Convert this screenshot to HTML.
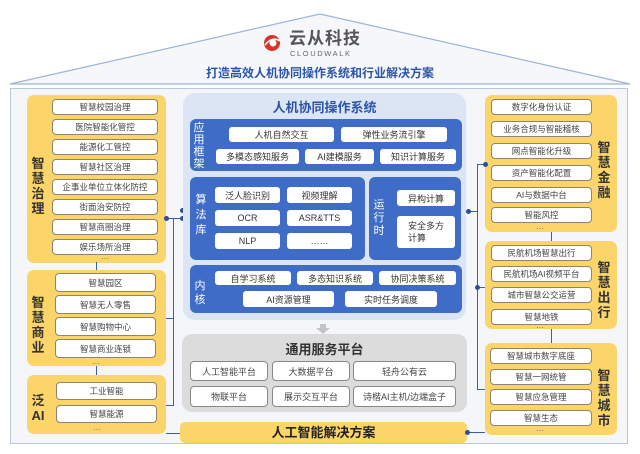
<!DOCTYPE html>
<html><head><meta charset="utf-8"><style>
*{margin:0;padding:0;box-sizing:border-box}
body{width:640px;height:454px;background:#fff;position:relative;overflow:hidden;font-family:"Liberation Sans","Noto Sans CJK SC",sans-serif}
div{position:absolute}
.y{background:#fbd46a;border-radius:7px}
.it{background:#fff;border:1px solid #8d8470;border-radius:4px;font-size:8.5px;color:#444;text-align:center;display:flex;align-items:center;justify-content:center;white-space:nowrap}
.vl{font-size:13px;font-weight:bold;color:#333;line-height:15px;width:16px;text-align:center}
.bp{background:#3f6cc6;border-radius:6px}
.bl{color:#fff;font-size:11px;line-height:12px;width:14px;text-align:center}
.bi{background:#fff;border-radius:3px;font-size:9px;color:#333;display:flex;align-items:center;justify-content:center;white-space:nowrap}
.gi{background:#fff;border:1px solid #888;border-radius:4px;font-size:9px;color:#444;display:flex;align-items:center;justify-content:center;white-space:nowrap}
.dots{font-size:8px;color:#666;width:30px;text-align:center;line-height:6px}
.ln{background:#3a5fa8}
.dt{width:5px;height:5px;border-radius:50%;background:#2d4f96}
</style></head><body>
<svg style="position:absolute;left:0;top:0" width="640" height="454">
<polygon points="10,84 320,14 630,84" fill="#f6f7fa" stroke="#9fb3d6" stroke-width="1.2"/>
<circle cx="272" cy="43" r="8" fill="#d8322a"/><circle cx="273" cy="43" r="3.5" fill="#fff"/>
<path d="M265 45 Q272 36 280 41" stroke="#fff" stroke-width="1.5" fill="none"/>
</svg>
<div style="left:289px;top:29px;font-size:17px;font-weight:bold;color:#555;letter-spacing:1px;line-height:20px">云从科技</div>
<div style="left:290px;top:50px;font-size:7.5px;color:#666;letter-spacing:1.6px;line-height:8px">CLOUDWALK</div>
<div style="left:0;width:640px;top:64px;text-align:center;font-size:12px;font-weight:bold;color:#2c55a8">打造高效人机协同操作系统和行业解决方案</div>
<div style="left:10px;top:88px;width:618px;height:356px;background:#f4f6fa;border:1.5px solid #b9c6dc"></div>

<!-- left -->
<div class="y" style="left:27px;top:95px;width:139px;height:168px"></div>
<div class="vl" style="left:30px;top:156px">智<br>慧<br>治<br>理</div>
<div class="it" style="left:52px;top:99px;width:106px;height:16px">智慧校园治理</div>
<div class="it" style="left:52px;top:119px;width:106px;height:16px">医院智能化管控</div>
<div class="it" style="left:52px;top:139px;width:106px;height:16px">能源化工管控</div>
<div class="it" style="left:52px;top:159px;width:106px;height:16px">智慧社区治理</div>
<div class="it" style="left:52px;top:179px;width:106px;height:16px">企事业单位立体化防控</div>
<div class="it" style="left:52px;top:199px;width:106px;height:16px">街面治安防控</div>
<div class="it" style="left:52px;top:219px;width:106px;height:16px">智慧商圈治理</div>
<div class="it" style="left:52px;top:239px;width:106px;height:16px">娱乐场所治理</div>
<div class="dots" style="left:90px;top:256px">···</div>
<div class="ln" style="left:96px;top:262px;width:1px;height:8px"></div>

<div class="y" style="left:27px;top:270px;width:139px;height:96px"></div>
<div class="vl" style="left:30px;top:295px">智<br>慧<br>商<br>业</div>
<div class="it" style="left:55px;top:273px;width:101px;height:19px">智慧园区</div>
<div class="it" style="left:55px;top:295px;width:101px;height:19px">智慧无人零售</div>
<div class="it" style="left:55px;top:317px;width:101px;height:19px">智慧购物中心</div>
<div class="it" style="left:55px;top:339px;width:101px;height:19px">智慧商业连锁</div>
<div class="dots" style="left:81px;top:361px">···</div>
<div class="ln" style="left:96px;top:366px;width:1px;height:9px"></div>

<div class="y" style="left:27px;top:375px;width:139px;height:59px"></div>
<div class="vl" style="left:30px;top:393px">泛<br>AI</div>
<div class="it" style="left:56px;top:382px;width:101px;height:18px">工业智能</div>
<div class="it" style="left:56px;top:405px;width:101px;height:18px">智慧能源</div>
<div class="dots" style="left:82px;top:427px">···</div>

<div class="ln" style="left:173px;top:218px;width:1px;height:188px"></div>
<div class="ln" style="left:166px;top:218px;width:16px;height:1px"></div>
<div class="ln" style="left:166px;top:318px;width:8px;height:1px"></div>
<div class="ln" style="left:166px;top:405px;width:8px;height:1px"></div>
<div class="ln" style="left:166px;top:433px;width:16px;height:1px"></div>
<div class="dt" style="left:164px;top:216px"></div>
<div class="dt" style="left:180px;top:208px"></div>
<div class="dt" style="left:180px;top:216px"></div>

<!-- center -->
<div style="left:183px;top:93px;width:283px;height:227px;background:#dbe5f4;border-radius:12px"></div>
<div style="left:183px;width:283px;top:97px;text-align:center;font-size:13px;font-weight:bold;color:#2c55a8">人机协同操作系统</div>
<div class="bp" style="left:190px;top:119px;width:272px;height:52px"></div>
<div class="bl" style="left:192px;top:122px">应<br>用<br>框<br>架</div>
<div class="bi" style="left:229px;top:127px;width:105px;height:15px">人机自然交互</div>
<div class="bi" style="left:341px;top:127px;width:106px;height:15px">弹性业务流引擎</div>
<div class="bi" style="left:216px;top:149px;width:83px;height:15px">多模态感知服务</div>
<div class="bi" style="left:305px;top:149px;width:69px;height:15px">AI建模服务</div>
<div class="bi" style="left:380px;top:149px;width:76px;height:15px">知识计算服务</div>

<div class="bp" style="left:190px;top:177px;width:175px;height:83px"></div>
<div class="bl" style="left:194px;top:193px;line-height:15px">算<br>法<br>库</div>
<div class="bi" style="left:215px;top:187px;width:65px;height:16px">泛人脸识别</div>
<div class="bi" style="left:287px;top:187px;width:65px;height:16px">视频理解</div>
<div class="bi" style="left:215px;top:210px;width:65px;height:16px">OCR</div>
<div class="bi" style="left:287px;top:210px;width:65px;height:16px">ASR&amp;TTS</div>
<div class="bi" style="left:215px;top:233px;width:65px;height:16px">NLP</div>
<div class="bi" style="left:287px;top:233px;width:65px;height:16px">……</div>

<div class="bp" style="left:369px;top:177px;width:92px;height:83px"></div>
<div class="bl" style="left:372px;top:199px;line-height:13px">运<br>行<br>时</div>
<div class="bi" style="left:397px;top:190px;width:58px;height:16px">异构计算</div>
<div class="bi" style="left:397px;top:216px;width:58px;height:32px;flex-direction:column;line-height:12px">安全多方<br>计算</div>

<div class="bp" style="left:190px;top:265px;width:272px;height:48px"></div>
<div class="bl" style="left:193px;top:279px;line-height:14px">内<br>核</div>
<div class="bi" style="left:215px;top:271px;width:76px;height:14px">自学习系统</div>
<div class="bi" style="left:297px;top:271px;width:76px;height:14px">多态知识系统</div>
<div class="bi" style="left:379px;top:271px;width:77px;height:14px">协同决策系统</div>
<div class="bi" style="left:243px;top:291px;width:91px;height:16px">AI资源管理</div>
<div class="bi" style="left:345px;top:291px;width:92px;height:16px">实时任务调度</div>

<svg style="position:absolute;left:316px;top:324px" width="14" height="10"><polygon points="4,0 10,0 10,4 14,4 7,10 0,4 4,4" fill="#c4c4c4"/></svg>

<div style="left:182px;top:334px;width:285px;height:78px;background:#dcdcdc;border-radius:10px"></div>
<div style="left:182px;width:285px;top:339px;text-align:center;font-size:13px;font-weight:bold;color:#333">通用服务平台</div>
<div class="gi" style="left:190px;top:361px;width:78px;height:20px">人工智能平台</div>
<div class="gi" style="left:272px;top:361px;width:78px;height:20px">大数据平台</div>
<div class="gi" style="left:353px;top:361px;width:103px;height:20px">轻舟公有云</div>
<div class="gi" style="left:190px;top:386px;width:78px;height:21px">物联平台</div>
<div class="gi" style="left:272px;top:386px;width:78px;height:21px">展示交互平台</div>
<div class="gi" style="left:353px;top:386px;width:103px;height:21px">诗楷AI主机/边端盒子</div>

<div class="y" style="left:180px;top:422px;width:287px;height:21px;border-radius:5px;font-size:13px;font-weight:bold;color:#222;text-align:center;line-height:21px">人工智能解决方案</div>
<div class="ln" style="left:467px;top:432px;width:18px;height:1px"></div>
<div class="dt" style="left:465px;top:430px"></div>

<!-- right -->
<div class="y" style="left:485px;top:95px;width:132px;height:137px"></div>
<div class="vl" style="left:596px;top:140px">智<br>慧<br>金<br>融</div>
<div class="it" style="left:491px;top:99px;width:101px;height:16px">数字化身份认证</div>
<div class="it" style="left:491px;top:121px;width:101px;height:16px">业务合规与智能稽核</div>
<div class="it" style="left:491px;top:143px;width:101px;height:16px">网点智能化升级</div>
<div class="it" style="left:491px;top:165px;width:101px;height:16px">资产智能化配置</div>
<div class="it" style="left:491px;top:187px;width:101px;height:16px">AI与数据中台</div>
<div class="it" style="left:491px;top:207px;width:101px;height:16px">智能风控</div>
<div class="dots" style="left:525px;top:226px">···</div>
<div class="ln" style="left:551px;top:232px;width:1px;height:9px"></div>

<div class="y" style="left:485px;top:241px;width:132px;height:88px"></div>
<div class="vl" style="left:596px;top:260px">智<br>慧<br>出<br>行</div>
<div class="it" style="left:491px;top:245px;width:101px;height:16px">民航机场智慧出行</div>
<div class="it" style="left:491px;top:266px;width:101px;height:16px">民航机场AI视频平台</div>
<div class="it" style="left:491px;top:287px;width:101px;height:16px">城市智慧公交运营</div>
<div class="it" style="left:491px;top:309px;width:101px;height:16px">智慧地铁</div>
<div class="dots" style="left:525px;top:325px">···</div>
<div class="ln" style="left:551px;top:329px;width:1px;height:14px"></div>

<div class="y" style="left:485px;top:343px;width:132px;height:92px"></div>
<div class="vl" style="left:596px;top:368px">智<br>慧<br>城<br>市</div>
<div class="it" style="left:490px;top:348px;width:102px;height:16px">智慧城市数字底座</div>
<div class="it" style="left:490px;top:369px;width:102px;height:16px">智慧一网统管</div>
<div class="it" style="left:490px;top:389px;width:102px;height:16px">智慧应急管理</div>
<div class="it" style="left:490px;top:410px;width:102px;height:16px">智慧生态</div>
<div class="dots" style="left:525px;top:428px">···</div>

<div class="ln" style="left:477px;top:164px;width:1px;height:226px"></div>
<div class="ln" style="left:477px;top:164px;width:8px;height:1px"></div>
<div class="ln" style="left:466px;top:211px;width:11px;height:1px"></div>
<div class="ln" style="left:477px;top:287px;width:8px;height:1px"></div>
<div class="ln" style="left:477px;top:389px;width:8px;height:1px"></div>
<div class="dt" style="left:483px;top:162px"></div>
<div class="dt" style="left:466px;top:209px"></div>
<div class="dt" style="left:475px;top:285px"></div>
</body></html>
